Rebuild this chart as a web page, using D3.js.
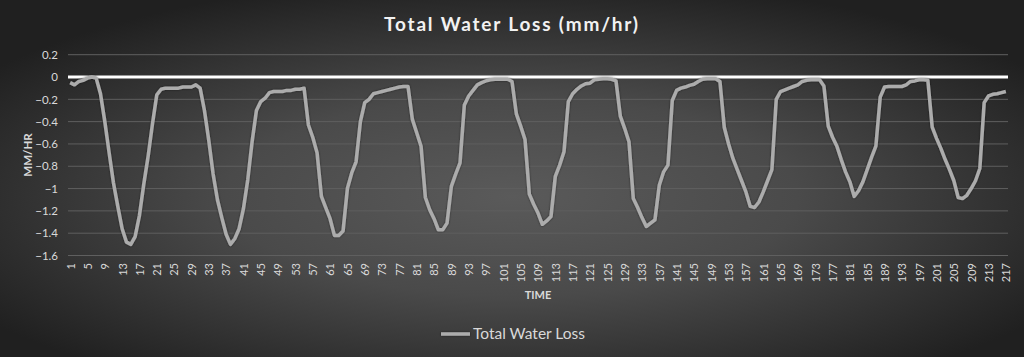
<!DOCTYPE html>
<html><head><meta charset="utf-8">
<script src="https://cdn.jsdelivr.net/npm/d3@7"></script>
<style>html,body{margin:0;padding:0;background:#2a2a2a;}svg{display:block;}</style>
</head><body>
<svg id="c" width="1024" height="357"></svg>
<script>
const categories = d3.range(1, 218);
const values = [
-0.05,-0.07,-0.04,-0.03,-0.01,0.0,-0.01,-0.15,-0.40,-0.68,
-0.95,-1.16,-1.36,-1.48,-1.50,-1.43,-1.24,-0.96,-0.71,-0.42,
-0.16,-0.11,-0.10,-0.10,-0.10,-0.10,-0.09,-0.09,-0.09,-0.07,
-0.10,-0.30,-0.57,-0.87,-1.10,-1.26,-1.41,-1.50,-1.45,-1.36,
-1.18,-0.92,-0.58,-0.30,-0.22,-0.19,-0.14,-0.13,-0.13,-0.13,
-0.12,-0.12,-0.11,-0.11,-0.10,-0.43,-0.54,-0.68,-1.07,-1.17,
-1.27,-1.42,-1.42,-1.38,-1.00,-0.86,-0.76,-0.40,-0.23,-0.20,
-0.15,-0.14,-0.13,-0.12,-0.11,-0.10,-0.09,-0.085,-0.085,-0.38,
-0.50,-0.62,-1.08,-1.19,-1.27,-1.37,-1.37,-1.31,-0.98,-0.87,
-0.77,-0.25,-0.17,-0.12,-0.07,-0.05,-0.035,-0.025,-0.02,-0.02,
-0.02,-0.02,-0.04,-0.33,-0.44,-0.56,-1.05,-1.14,-1.22,-1.32,
-1.29,-1.25,-0.89,-0.79,-0.67,-0.22,-0.15,-0.11,-0.08,-0.06,
-0.055,-0.025,-0.02,-0.016,-0.016,-0.02,-0.034,-0.35,-0.46,-0.58,
-1.09,-1.17,-1.26,-1.34,-1.31,-1.28,-0.97,-0.85,-0.79,-0.21,
-0.12,-0.10,-0.09,-0.075,-0.065,-0.04,-0.02,-0.015,-0.015,-0.015,
-0.04,-0.45,-0.60,-0.73,-0.83,-0.93,-1.03,-1.16,-1.17,-1.12,
-1.03,-0.93,-0.83,-0.20,-0.13,-0.115,-0.10,-0.085,-0.07,-0.04,
-0.03,-0.025,-0.025,-0.025,-0.08,-0.44,-0.54,-0.62,-0.74,-0.85,
-0.94,-1.07,-1.02,-0.94,-0.83,-0.72,-0.62,-0.18,-0.09,-0.085,
-0.085,-0.085,-0.085,-0.07,-0.04,-0.035,-0.025,-0.025,-0.03,-0.45,
-0.55,-0.64,-0.74,-0.83,-0.93,-1.08,-1.09,-1.06,-1.00,-0.93,
-0.82,-0.23,-0.17,-0.155,-0.15,-0.14,-0.13
];
const yTicks = [0.2, 0, -0.2, -0.4, -0.6, -0.8, -1, -1.2, -1.4, -1.6];
const xTickLabels = categories.filter((d, i) => i % 4 === 0);
const seriesName = "Total Water Loss";
const titleText = "Total Water Loss (mm/hr)";

const W = 1024, H = 357;
const svg = d3.select("#c");
const defs = svg.append("defs");
const rg = defs.append("radialGradient").attr("id", "bg")
  .attr("cx", "50%").attr("cy", "55%").attr("r", "62%");
rg.append("stop").attr("offset", "0%").attr("stop-color", "#5a5a5a");
rg.append("stop").attr("offset", "45%").attr("stop-color", "#4a4a4a");
rg.append("stop").attr("offset", "100%").attr("stop-color", "#202020");
const flt = defs.append("filter").attr("id", "sh").attr("filterUnits", "userSpaceOnUse")
  .attr("x", 0).attr("y", 0).attr("width", W).attr("height", H);
flt.append("feDropShadow").attr("dx", 0).attr("dy", 0).attr("stdDeviation", 1.2)
  .attr("flood-color", "#000").attr("flood-opacity", 0.5);

svg.append("rect").attr("width", W).attr("height", H).attr("fill", "url(#bg)");

const font = "Lato, 'Open Sans', sans-serif";
const x = d3.scalePoint().domain(categories).range([68, 1008]).padding(0.5);
const y = d3.scaleLinear().domain([-1.6, 0.2]).range([255.5, 54.7]);

// gridlines
svg.append("g").selectAll("line").data(yTicks.filter(t => t !== 0)).join("line")
  .attr("x1", 68).attr("x2", 1008)
  .attr("y1", d => y(d)).attr("y2", d => y(d))
  .attr("stroke", "#5f5f5f").attr("stroke-width", 1);

// y axis labels
const yAxis = d3.axisLeft(y).tickValues(yTicks).tickSize(0).tickPadding(0)
  .tickFormat(d => d3.format("")(+d.toFixed(1)));
const gy = svg.append("g").attr("transform", "translate(58,0)").call(yAxis);
gy.select(".domain").remove();
gy.selectAll("text").attr("fill", "#d9d9d9").attr("font-family", font).attr("font-size", 11.5);

// x axis labels
const xAxis = d3.axisBottom(x).tickValues(xTickLabels).tickSize(0).tickPadding(0);
const gx = svg.append("g").attr("transform", "translate(0,263)").call(xAxis);
gx.select(".domain").remove();
gx.selectAll("text").attr("fill", "#d9d9d9").attr("font-family", font).attr("font-size", 11)
  .attr("transform", "rotate(-90)").attr("text-anchor", "end")
  .attr("x", 0).attr("y", 0).attr("dx", 0).attr("dy", "0.35em");

// zero line
svg.append("line").attr("x1", 68).attr("x2", 1008).attr("y1", y(0)).attr("y2", y(0))
  .attr("stroke", "#ffffff").attr("stroke-width", 3);

// series
const line = d3.line().x((d, i) => x(categories[i])).y(d => y(d));
svg.append("path").datum(values).attr("d", line)
  .attr("fill", "none").attr("stroke", "#acacac").attr("stroke-width", 3.5)
  .attr("stroke-linejoin", "round").attr("filter", "url(#sh)");

// title
svg.append("text").attr("x", 512).attr("y", 31).attr("text-anchor", "middle")
  .attr("fill", "#f2f2f2").attr("font-family", font).attr("font-weight", "bold")
  .attr("font-size", 19).attr("letter-spacing", 1.8).text(titleText);

// axis titles
svg.append("text").attr("transform", "translate(32,155) rotate(-90)").attr("text-anchor", "middle")
  .attr("fill", "#d9d9d9").attr("font-family", font).attr("font-weight", "bold")
  .attr("font-size", 11.5).text("MM/HR");
svg.append("text").attr("x", 538).attr("y", 299).attr("text-anchor", "middle")
  .attr("fill", "#d9d9d9").attr("font-family", font).attr("font-weight", "bold")
  .attr("font-size", 11).text("TIME");

// legend
svg.append("line").attr("x1", 441).attr("x2", 470).attr("y1", 334).attr("y2", 334)
  .attr("stroke", "#acacac").attr("stroke-width", 3.5).attr("filter", "url(#sh)");
svg.append("text").attr("x", 473).attr("y", 339).attr("fill", "#d9d9d9")
  .attr("font-family", font).attr("font-size", 15.5).text(seriesName);
</script>
</body></html>
